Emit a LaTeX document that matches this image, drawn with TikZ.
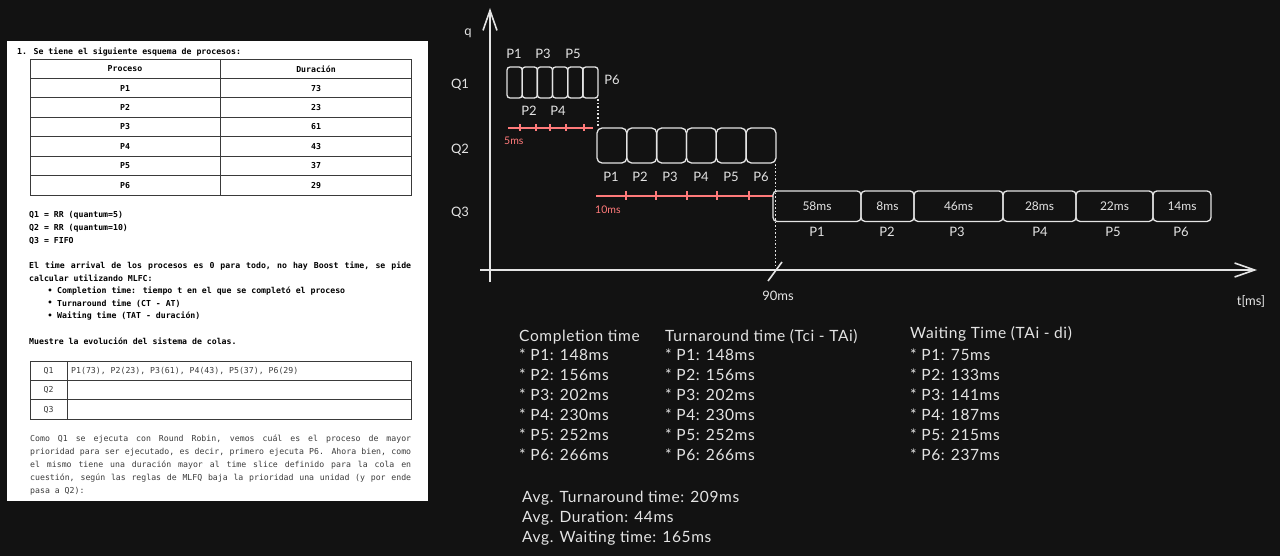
\documentclass[tikz,border=0pt]{standalone}
\usepackage{fontspec}
\setmainfont{Lato}
\newfontfamily\monof{DejaVu Sans Mono}
\newfontfamily\handf{Lato}[LetterSpace=4]
\usetikzlibrary{arrows.meta}
\definecolor{bg}{HTML}{121212}
\definecolor{ink}{HTML}{E4E4E4}
\definecolor{redl}{HTML}{FF7A7A}
\definecolor{tline}{HTML}{3A3A3A}
\definecolor{ptext}{HTML}{3C3C3C}
\tikzset{
  mono/.style={font=\monof\bfseries\fontsize{8.2}{10}\selectfont, text=black, inner sep=0pt},
  monol/.style={font=\monof\fontsize{8.2}{10}\selectfont, text=ptext, inner sep=0pt},
  tab/.style={draw=tline, line width=0.8pt},
  axis/.style={draw=ink, line width=1.6pt, -{Straight Barb[length=20pt,width=14pt,line width=1.6pt]}},
  qbox/.style={draw=ink, line width=1.3pt, rounded corners=4pt, inner sep=0pt, text=ink, font=\fontsize{12}{14}\selectfont},
  lab/.style={text=ink, font=\fontsize{13}{15}\selectfont, inner sep=0pt},
  hand/.style={text=ink, font=\handf\fontsize{15.5}{17}\selectfont, inner sep=0pt, anchor=west},
  redline/.style={draw=redl, line width=1.6pt},
  redtick/.style={draw=redl, line width=2.6pt},
  redlab/.style={text=redl, font=\fontsize{10.5}{12}\selectfont, inner sep=0pt, anchor=west},
  dots/.style={draw=ink, line width=1.6pt, dotted}
}
\begin{document}
\begin{tikzpicture}[x=1pt,y=-1pt]
\useasboundingbox (0,0) rectangle (1280,556);
\fill[bg] (0,0) rectangle (1280,556);
% ---------------- left panel ----------------
\fill[white] (7,41) rectangle (428,501);
\node[mono, anchor=west] (h1) at (17,52) {1. Se tiene el siguiente esquema de procesos:};
% table 1
\draw[tab] (30,59) rectangle (411,195);
\foreach \k in {1,...,6} { \draw[tab] (30,{59+19.43*\k}) -- (411,{59+19.43*\k}); }
\draw[tab] (220,59) -- (220,195);
\node[mono] (th1) at (125,69) {Proceso};
\node[mono] (th2) at (316,69) {Duración};
\foreach \p/\d [count=\i] in {P1/73,P2/23,P3/61,P4/43,P5/37,P6/29} {
  \node[mono] (tp\i) at (125,{68.7+19.43*\i}) {\p};
  \node[mono] (td\i) at (316,{68.7+19.43*\i}) {\d};
}
\node[mono, anchor=west] (q1t) at (29,215) {Q1 = RR (quantum=5)};
\node[mono, anchor=west] (q2t) at (29,228) {Q2 = RR (quantum=10)};
\node[mono, anchor=west] (q3t) at (29,241) {Q3 = FIFO};
\node[mono, anchor=north west, text width=382pt, align=justify, font=\monof\bfseries\fontsize{8.2}{12.8}\selectfont] (el) at (29,261.5) {\spaceskip=0.6em plus 1.5em minus 0.1em El time arrival de los procesos es 0 para todo, no hay Boost time, se pide\linebreak calcular utilizando MLFC:};
\node[mono] (b1) at (50,291) {•};
\node[mono] (b2) at (50,303.5) {•};
\node[mono] (b3) at (50,316) {•};
\node[mono, anchor=west] (bt1) at (57,291) {Completion time: tiempo t en el que se completó el proceso};
\node[mono, anchor=west] (bt2) at (57,303.5) {Turnaround time (CT - AT)};
\node[mono, anchor=west] (bt3) at (57,316) {Waiting time (TAT - duración)};
\node[mono, anchor=west] (mu) at (29,341) {Muestre la evolución del sistema de colas.};
% table 2
\draw[tab] (30,361) rectangle (411,419);
\draw[tab] (30,380.4) -- (411,380.4);
\draw[tab] (30,399.8) -- (411,399.8);
\draw[tab] (67,361) -- (67,419);
\node[monol] (r1) at (48.5,370.7) {Q1};
\node[monol] (r2) at (48.5,390.1) {Q2};
\node[monol] (r3) at (48.5,409.5) {Q3};
\node[monol, anchor=west] (r1t) at (71,370.7) {P1(73), P2(23), P3(61), P4(43), P5(37), P6(29)};
\node[monol, anchor=north west, text width=381pt, align=justify, font=\monof\fontsize{8.2}{13}\selectfont] (para) at (30,434.5) {\spaceskip=0.6em plus 1.5em minus 0.1em Como Q1 se ejecuta con Round Robin, vemos cuál es el proceso de mayor\linebreak prioridad para ser ejecutado, es decir, primero ejecuta P6. Ahora bien, como\linebreak el mismo tiene una duración mayor al time slice definido para la cola en\linebreak cuestión, según las reglas de MLFQ baja la prioridad una unidad (y por ende\linebreak pasa a Q2):};
% ---------------- chart ----------------
\coordinate (yb) at (490,282);
\coordinate (yt) at (490,8);
\coordinate (xl) at (480,270);
\coordinate (xr) at (1257,270);
\draw[axis] (yb) -- (yt);
\draw[axis] (xl) -- (xr);
\node[lab] (qlab) at (468,33) {q};
\node[lab] (Q1) at (460,85) {Q1};
\node[lab] (Q2) at (460,150) {Q2};
\node[lab] (Q3) at (460,213) {Q3};
% Q1 boxes
\foreach \i in {0,...,5} {
  \node[qbox, rounded corners=3pt, minimum width=15.2pt, minimum height=31pt] (a\i) at ({507+15.17*\i+7.6},82.5) {};
}
\node[lab] (a1l) at (514,54) {P1};
\node[lab] (a3l) at (543,54) {P3};
\node[lab] (a5l) at (573,54) {P5};
\node[lab] (a2l) at (529,111) {P2};
\node[lab] (a4l) at (558,111) {P4};
\node[lab] (a6l) at (612,80) {P6};
\coordinate (d1a) at (598,99);
\coordinate (d1b) at (598,126);
\draw[dots] (d1a) -- (d1b);
% 5ms
\coordinate (r5a) at (508,128);
\coordinate (r5b) at (593,128);
\draw[redline] (r5a) -- (r5b);
\foreach \x in {520,536,550,566,584} { \draw[redtick] (\x,124.5) -- (\x,131.5); }
\node[redlab] (r5l) at (504,141) {5ms};
% Q2 boxes
\foreach \i in {0,...,5} {
  \node[qbox, rounded corners=5pt, minimum width=29.8pt, minimum height=35pt] (b\i) at ({597+29.83*\i+14.9},145.5) {};
}
\foreach \i/\xx in {1/611,2/640,3/670,4/701,5/731,6/761} { \node[lab] (bl\i) at (\xx,177) {P\i}; }
\coordinate (d2a) at (775.5,164);
\coordinate (d2b) at (775.5,268);
\draw[dots] (d2a) -- (d2b);
% 10ms
\coordinate (r10a) at (596,196);
\coordinate (r10b) at (773,196);
\draw[redline] (r10a) -- (r10b);
\foreach \x in {626,656,687,717,749} { \draw[redtick] (\x,191.5) -- (\x,200.5); }
\node[redlab] (r10l) at (595,210) {10ms};
% Q3 boxes
\foreach \n/\l/\r/\t/\xl in {c1/773/861/58ms/817, c2/861/914/8ms/887.5, c3/914/1003/46ms/958.5, c4/1003/1076/28ms/1039.5, c5/1076/1153/22ms/1114.5, c6/1153/1211/14ms/1182} {
  \node[qbox, minimum width={\r-\l}, minimum height=30.5pt] (\n) at ({(\l+\r)/2},206.2) {\t};
}
\foreach \i/\xx in {1/817,2/887,3/957,4/1040,5/1113,6/1181} { \node[lab] (cl\i) at (\xx,232) {P\i}; }
% 90ms tick
\coordinate (tk1) at (768,281);
\coordinate (tk2) at (782,262);
\draw[draw=ink, line width=1.6pt] (tk1) -- (tk2);
\node[lab] (n90) at (778,296) {90ms};
\node[lab] (tms) at (1251,301) {t[ms]};
% ---------------- results ----------------
\node[hand] (ct) at (519,337) {Completion time};
\node[hand] (tt) at (665,337) {Turnaround time (Tci - TAi)};
\node[hand] (wt) at (910,334) {Waiting Time (TAi - di)};
\foreach \c/\t/\w [count=\i] in {148/148/75,156/156/133,202/202/141,230/230/187,252/252/215,266/266/237} {
  \node[hand] (cc\i) at (519,{355+20*(\i-1)}) {* P\i: \c ms};
  \node[hand] (tc\i) at (665,{355+20*(\i-1)}) {* P\i: \t ms};
  \node[hand] (wc\i) at (910,{355+20*(\i-1)}) {* P\i: \w ms};
}
\node[hand] (av1) at (522,498) {Avg. Turnaround time: 209ms};
\node[hand] (av2) at (522,518) {Avg. Duration: 44ms};
\node[hand] (av3) at (522,538) {Avg. Waiting time: 165ms};
\end{tikzpicture}
\end{document}
